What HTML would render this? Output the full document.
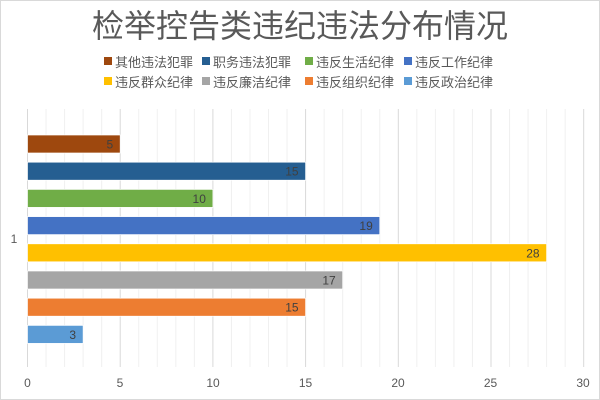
<!DOCTYPE html><html><head><meta charset="utf-8"><style>
body{margin:0;background:#fff}
svg{display:block;font-family:"Liberation Sans","Noto Sans CJK SC",sans-serif}
</style></head><body>
<svg width="600" height="400" viewBox="0 0 600 400">
<rect x="0.5" y="0.5" width="599" height="399" fill="#fff" stroke="#d9d9d9"/>
<text x="300" y="37" text-anchor="middle" font-size="32" fill="#595959">检举控告类违纪违法分布情况</text>
<g font-size="13" fill="#595959">
<rect x="104" y="57" width="8" height="8" fill="#9e480e"/><text x="115" y="67">其他违法犯罪</text>
<rect x="202" y="57" width="8" height="8" fill="#255e91"/><text x="213" y="67">职务违法犯罪</text>
<rect x="305" y="57" width="8" height="8" fill="#70ad47"/><text x="316" y="67">违反生活纪律</text>
<rect x="404" y="57" width="8" height="8" fill="#4472c4"/><text x="415" y="67">违反工作纪律</text>
<rect x="104" y="77" width="8" height="8" fill="#ffc000"/><text x="115" y="87">违反群众纪律</text>
<rect x="202" y="77" width="8" height="8" fill="#a5a5a5"/><text x="213" y="87">违反廉洁纪律</text>
<rect x="305" y="77" width="8" height="8" fill="#ed7d31"/><text x="316" y="87">违反组织纪律</text>
<rect x="404" y="77" width="8" height="8" fill="#5b9bd5"/><text x="415" y="87">违反政治纪律</text>
</g>
<g stroke="#f0f0f0" stroke-width="1">
<line x1="46.04" y1="109" x2="46.04" y2="367"/><line x1="64.58" y1="109" x2="64.58" y2="367"/><line x1="83.12" y1="109" x2="83.12" y2="367"/><line x1="101.66" y1="109" x2="101.66" y2="367"/>
<line x1="138.74" y1="109" x2="138.74" y2="367"/><line x1="157.28" y1="109" x2="157.28" y2="367"/><line x1="175.82" y1="109" x2="175.82" y2="367"/><line x1="194.36" y1="109" x2="194.36" y2="367"/>
<line x1="231.44" y1="109" x2="231.44" y2="367"/><line x1="249.98" y1="109" x2="249.98" y2="367"/><line x1="268.52" y1="109" x2="268.52" y2="367"/><line x1="287.06" y1="109" x2="287.06" y2="367"/>
<line x1="324.14" y1="109" x2="324.14" y2="367"/><line x1="342.68" y1="109" x2="342.68" y2="367"/><line x1="361.22" y1="109" x2="361.22" y2="367"/><line x1="379.76" y1="109" x2="379.76" y2="367"/>
<line x1="416.84" y1="109" x2="416.84" y2="367"/><line x1="435.38" y1="109" x2="435.38" y2="367"/><line x1="453.92" y1="109" x2="453.92" y2="367"/><line x1="472.46" y1="109" x2="472.46" y2="367"/>
<line x1="509.54" y1="109" x2="509.54" y2="367"/><line x1="528.08" y1="109" x2="528.08" y2="367"/><line x1="546.62" y1="109" x2="546.62" y2="367"/><line x1="565.16" y1="109" x2="565.16" y2="367"/>
</g>
<g stroke="#d9d9d9" stroke-width="1">
<line x1="27.5" y1="109" x2="27.5" y2="367"/><line x1="120.2" y1="109" x2="120.2" y2="367"/><line x1="212.9" y1="109" x2="212.9" y2="367"/><line x1="305.6" y1="109" x2="305.6" y2="367"/><line x1="398.3" y1="109" x2="398.3" y2="367"/><line x1="491" y1="109" x2="491" y2="367"/><line x1="583.7" y1="109" x2="583.7" y2="367"/>
</g>
<g font-size="12" fill="#595959" text-anchor="middle">
<text x="27.5" y="387">0</text><text x="120" y="387">5</text><text x="213" y="387">10</text><text x="305.5" y="387">15</text><text x="398" y="387">20</text><text x="490.5" y="387">25</text><text x="583" y="387">30</text>
<text x="14" y="243">1</text>
</g>
<g stroke="#fff" stroke-width="0.7">
<rect x="27.5" y="135" width="92.7" height="18" fill="#9e480e"/>
<rect x="27.5" y="162.2" width="278.1" height="18" fill="#255e91"/>
<rect x="27.5" y="189.4" width="185.4" height="18" fill="#70ad47"/>
<rect x="27.5" y="216.6" width="352.26" height="18" fill="#4472c4"/>
<rect x="27.5" y="243.8" width="519.12" height="18" fill="#ffc000"/>
<rect x="27.5" y="271" width="315.18" height="18" fill="#a5a5a5"/>
<rect x="27.5" y="298.2" width="278.1" height="18" fill="#ed7d31"/>
<rect x="27.5" y="325.4" width="55.62" height="18" fill="#5b9bd5"/>
</g>
<g font-size="12" fill="#404040" text-anchor="end">
<text x="113.2" y="148.5">5</text>
<text x="298.6" y="175.7">15</text>
<text x="205.9" y="202.9">10</text>
<text x="372.76" y="230.1">19</text>
<text x="539.62" y="257.3">28</text>
<text x="335.68" y="284.5">17</text>
<text x="298.6" y="311.7">15</text>
<text x="76.12" y="338.9">3</text>
</g>
</svg></body></html>
